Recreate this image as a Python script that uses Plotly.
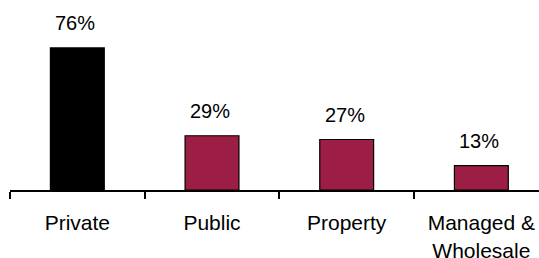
import plotly.graph_objects as go

categories = ["Private", "Public", "Property", "Managed &<br>Wholesale"]
values = [76, 29, 27, 13]
value_labels = ["76%", "29%", "27%", "13%"]
bar_colors = ["#000000", "#9C1E45", "#9C1E45", "#9C1E45"]

FONT = "Liberation Sans, Arial, sans-serif"

fig = go.Figure()
fig.add_trace(go.Bar(
    x=categories,
    y=values,
    width=0.4,
    marker=dict(color=bar_colors, line=dict(color="#000000", width=1.2)),
    hoverinfo="skip",
))

for c, v, t in zip(categories, values, value_labels):
    fig.add_annotation(
        x=c, y=v, xref="x", yref="y", text=t, showarrow=False,
        yanchor="bottom", yshift=12, xshift=-2,
        font=dict(family=FONT, size=20, color="#000000"),
    )

fig.update_layout(
    width=539, height=258,
    margin=dict(l=10, r=0, t=3, b=68, autoexpand=False),
    paper_bgcolor="white", plot_bgcolor="white",
    showlegend=False,
    bargap=0.6,
    font=dict(family=FONT, size=20, color="#000000"),
)
fig.update_xaxes(
    type="category",
    range=[-0.5, 3.428],
    automargin=False,
    showline=True, linecolor="#000000", linewidth=2,
    ticks="outside", tickson="boundaries", ticklen=7, tickwidth=2, tickcolor="#000000",
    ticklabelstandoff=13,
    showgrid=False, zeroline=False,
    tickfont=dict(family=FONT, size=21, color="#000000"),
)
fig.update_yaxes(range=[0, 100], visible=False, showgrid=False, zeroline=False)

fig.write_html(
    "out.html",
    config={"displayModeBar": False},
    post_script="document.body.style.margin='0';document.body.style.overflow='hidden';",
)
